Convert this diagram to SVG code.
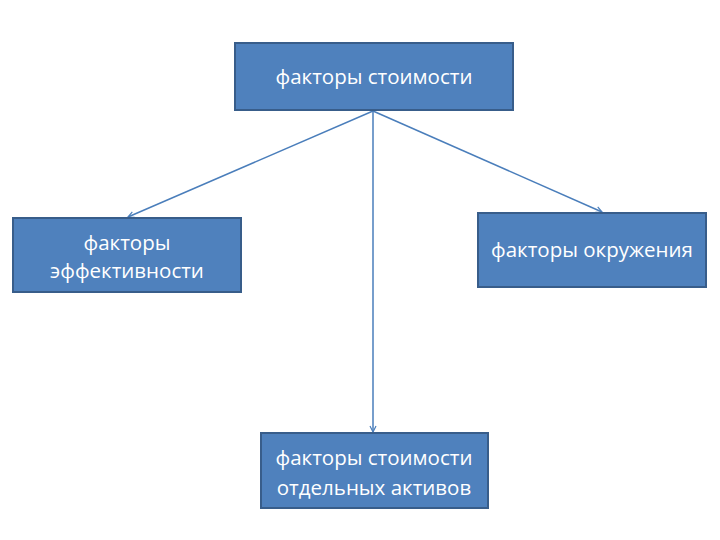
<svg xmlns="http://www.w3.org/2000/svg" width="720" height="540" viewBox="0 0 720 540">
<defs>
<style>
.box{fill:#4F81BD;stroke:#385D8A;stroke-width:2}
.t{fill:#fff;font-family:"Open Sans","Liberation Sans",sans-serif;font-size:20.5px;text-anchor:middle}
.c{stroke:#4A7EBB;stroke-width:1.5;fill:none;marker-end:url(#a)}
</style>
<marker id="a" markerWidth="8" markerHeight="8" refX="7" refY="4" orient="auto" markerUnits="userSpaceOnUse">
<path d="M1,1 L7,4 L1,7" fill="none" stroke="#4A7EBB" stroke-width="1.2"/>
</marker>
</defs>
<rect width="720" height="540" fill="#fff"/>
<g id="connectors">
<line class="c" x1="373" y1="111" x2="128" y2="217"/>
<line class="c" x1="373" y1="111" x2="373" y2="432"/>
<line class="c" x1="373" y1="111" x2="602" y2="212"/>
</g>
<g id="n1"><rect class="box" x="235" y="43" width="278" height="67"/><text class="t" x="374" y="84">факторы стоимости</text></g>
<g id="n2"><rect class="box" x="13" y="218" width="228" height="74"/><text class="t" x="127" y="250">факторы</text><text class="t" x="127" y="278">эффективности</text></g>
<g id="n3"><rect class="box" x="478" y="213" width="228" height="74"/><text class="t" x="592" y="257">факторы окружения</text></g>
<g id="n4"><rect class="box" x="261" y="433" width="227" height="75"/><text class="t" x="374" y="465">факторы стоимости</text><text class="t" x="374" y="495">отдельных активов</text></g>
</svg>
